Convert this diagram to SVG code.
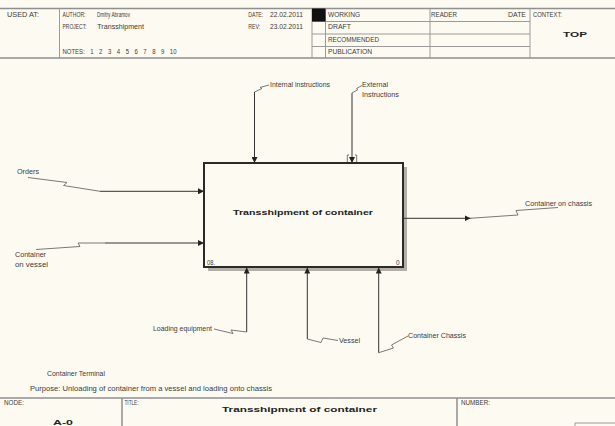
<svg xmlns="http://www.w3.org/2000/svg" width="615" height="426" viewBox="0 0 615 426">
<style>
.t{font-family:"Liberation Sans",Arial,sans-serif;font-size:6.5px;fill:#3a3a3a}
.b{font-weight:bold;fill:#222}
.fr{stroke:#8f8f8f;stroke-width:1.5;fill:none}
.fr1{stroke:#9a9a9a;stroke-width:1;fill:none}
.ar{stroke:#333;stroke-width:1;fill:none}
.sq{stroke:#6a6a6a;stroke-width:0.9;fill:none}
</style>
<defs>
<marker id="ah" markerUnits="userSpaceOnUse" markerWidth="7" markerHeight="6" refX="6" refY="3" orient="auto">
<path d="M0,0 L6,3 L0,6 z" fill="#222"/>
</marker>
</defs>
<rect x="0" y="0" width="615" height="426" fill="#fdfaf1"/>

<g id="header">
<path class="fr" d="M0,8.5 H615 M0,58 H615"/>
<path class="fr1" d="M59.5,8.5 V58 M312,8.5 V58 M325.5,8.5 V58 M430,8.5 V58 M530,8.5 V58 M312,21.5 H530 M312,34 H530 M312,46.5 H530"/>
<rect x="312" y="8.5" width="13.5" height="13" fill="#111"/>
<text class="t" x="7" y="17" textLength="32" lengthAdjust="spacingAndGlyphs">USED AT:</text>
<text class="t" x="62.5" y="17" textLength="23" lengthAdjust="spacingAndGlyphs">AUTHOR:</text>
<text class="t" x="97" y="17" textLength="33" lengthAdjust="spacingAndGlyphs">Dmitry Abramov</text>
<text class="t" x="62.5" y="28.5" textLength="24" lengthAdjust="spacingAndGlyphs">PROJECT:</text>
<text class="t" x="97.3" y="28.5" textLength="46.7" lengthAdjust="spacingAndGlyphs">Transshipment</text>
<text class="t" x="62.5" y="53.5" textLength="114" lengthAdjust="spacingAndGlyphs" word-spacing="4.2">NOTES: 1 2 3 4 5 6 7 8 9 10</text>
<text class="t" x="248.3" y="17" textLength="15" lengthAdjust="spacingAndGlyphs">DATE:</text>
<text class="t" x="270" y="17" textLength="33" lengthAdjust="spacingAndGlyphs">22.02.2011</text>
<text class="t" x="248.3" y="28.5" textLength="12" lengthAdjust="spacingAndGlyphs">REV:</text>
<text class="t" x="270" y="28.5" textLength="33" lengthAdjust="spacingAndGlyphs">23.02.2011</text>
<text class="t" x="328" y="17.3" textLength="32" lengthAdjust="spacingAndGlyphs">WORKING</text>
<text class="t" x="328" y="29" textLength="23" lengthAdjust="spacingAndGlyphs">DRAFT</text>
<text class="t" x="328" y="41.6" textLength="51" lengthAdjust="spacingAndGlyphs">RECOMMENDED</text>
<text class="t" x="328" y="54" textLength="44" lengthAdjust="spacingAndGlyphs">PUBLICATION</text>
<text class="t" x="431" y="17.3" textLength="26" lengthAdjust="spacingAndGlyphs">READER</text>
<text class="t" x="508" y="17.3" textLength="18" lengthAdjust="spacingAndGlyphs">DATE</text>
<text class="t" x="533" y="17.3" textLength="29" lengthAdjust="spacingAndGlyphs">CONTEXT:</text>
<text class="t b" x="563" y="37" font-size="12.5" textLength="24" lengthAdjust="spacingAndGlyphs">TOP</text>
</g>

<g id="box-A0">
<rect x="208" y="167" width="199" height="104" fill="#b3afa6"/>
<rect x="204" y="163" width="199" height="104" fill="#fdfaf1" stroke="#2a2a2a" stroke-width="2"/>
<text class="t b" x="233" y="214.5" font-size="10.5" textLength="140" lengthAdjust="spacingAndGlyphs">Transshipment of container</text>
<text class="t" x="207" y="264.5" textLength="8" lengthAdjust="spacingAndGlyphs">08.</text>
<text class="t" x="396" y="264.5">0</text>
</g>

<g id="connectors">
<g id="c-internal">
<path class="ar" d="M254.5,92 V163" marker-end="url(#ah)"/>
<path class="sq" d="M254.5,92 L262,88.5 L260,87.5 L269,85"/>
<text class="t" x="270" y="87.3" textLength="60" lengthAdjust="spacingAndGlyphs">Internal instructions</text>
</g>
<g id="c-external">
<path class="ar" d="M352,93 V163" marker-end="url(#ah)"/>
<path class="sq" d="M352,93 L358,89.5 L356.5,88.5 L362,85.5"/>
<path class="sq" d="M349,155 H347.3 V162 M355,155 H356.7 V162"/>
<text class="t" x="362" y="87" textLength="26" lengthAdjust="spacingAndGlyphs">External</text>
<text class="t" x="362" y="97" textLength="37" lengthAdjust="spacingAndGlyphs">Instructions</text>
</g>
<g id="c-orders">
<path class="sq" d="M28,177.5 L67,182.5 L63.5,185.5 L100,191.3"/>
<path class="ar" d="M100,191.3 H204" marker-end="url(#ah)"/>
<text class="t" x="17" y="174" textLength="22" lengthAdjust="spacingAndGlyphs">Orders</text>
</g>
<g id="c-vessel-in">
<path class="sq" d="M36,249.5 L80,246.5 L78,243 L105,243"/>
<path class="ar" d="M105,243 H204" marker-end="url(#ah)"/>
<text class="t" x="15" y="257" textLength="31" lengthAdjust="spacingAndGlyphs">Container</text>
<text class="t" x="15" y="267" textLength="33" lengthAdjust="spacingAndGlyphs">on vessel</text>
</g>
<g id="c-output">
<path class="ar" d="M403,218.3 H470.5" marker-end="url(#ah)"/>
<path class="sq" d="M470,218.3 L518,215 L516,210.5 L558,207.5"/>
<text class="t" x="525" y="205.5" textLength="67" lengthAdjust="spacingAndGlyphs">Container on chassis</text>
</g>
<g id="c-loading">
<path class="ar" d="M246.7,332 V267.5" marker-end="url(#ah)"/>
<path class="sq" d="M246.7,332 L231,330 L233,333.5 L214,329"/>
<text class="t" x="153" y="331.3" textLength="59" lengthAdjust="spacingAndGlyphs">Loading equipment</text>
</g>
<g id="c-vessel">
<path class="ar" d="M307.3,339 V267.5" marker-end="url(#ah)"/>
<path class="sq" d="M307.3,339 L321,342.5 L323,338 L338,340.5"/>
<text class="t" x="339" y="343.3" textLength="21" lengthAdjust="spacingAndGlyphs">Vessel</text>
</g>
<g id="c-chassis">
<path class="ar" d="M378.7,352.7 V267.5" marker-end="url(#ah)"/>
<path class="sq" d="M378.7,352.7 L393.5,348 L391.5,345 L408,336"/>
<text class="t" x="408" y="338" textLength="58" lengthAdjust="spacingAndGlyphs">Container Chassis</text>
</g>
</g>

<g id="notes">
<text class="t" x="47" y="375.5" textLength="58" lengthAdjust="spacingAndGlyphs">Container Terminal</text>
<text class="t" x="30" y="390.5" textLength="242" lengthAdjust="spacingAndGlyphs">Purpose: Unloading of container from a vessel and loading onto chassis</text>
</g>

<g id="footer">
<path class="fr" d="M0,398 H615"/>
<path class="fr" d="M122,398 V426 M457,398 V426"/>
<path class="fr1" d="M575,426 V423 H615"/>
<text class="t" x="4" y="405" textLength="20" lengthAdjust="spacingAndGlyphs">NODE:</text>
<text class="t b" x="53" y="425" font-size="13" textLength="20" lengthAdjust="spacingAndGlyphs">A-0</text>
<text class="t" x="124.5" y="405" textLength="14" lengthAdjust="spacingAndGlyphs">TITLE:</text>
<text class="t b" x="222" y="411.5" font-size="12" textLength="155" lengthAdjust="spacingAndGlyphs">Transshipment of container</text>
<text class="t" x="461" y="405" textLength="29" lengthAdjust="spacingAndGlyphs">NUMBER:</text>
</g>
</svg>
